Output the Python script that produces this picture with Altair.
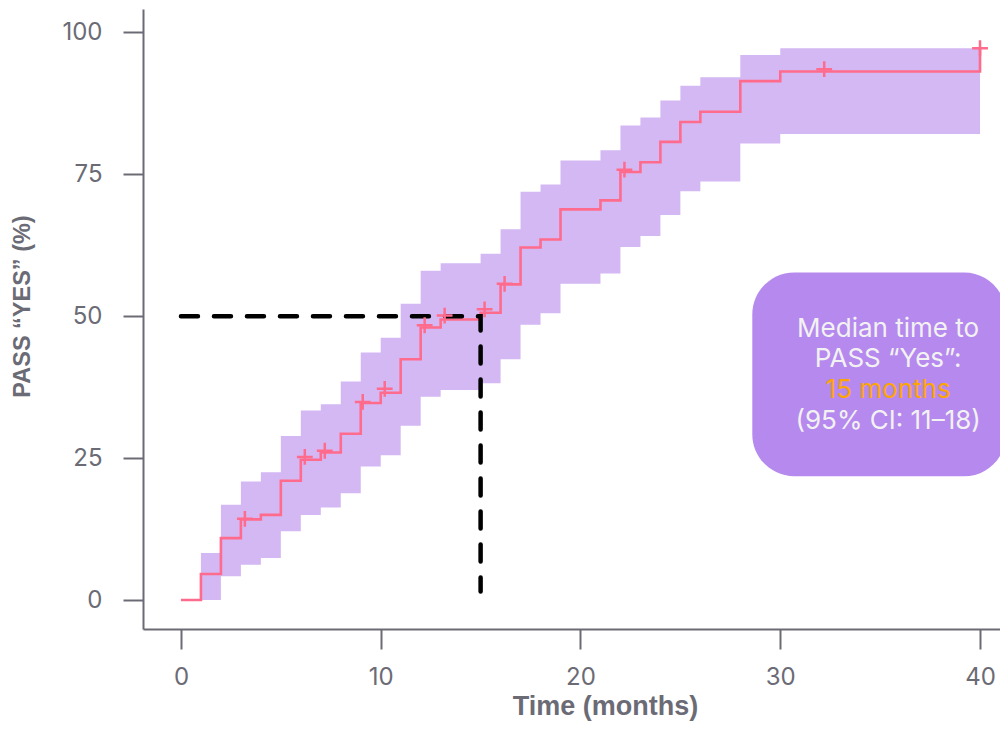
import altair as alt
import pandas as pd

# ---- data ----
km_time = [0, 1, 2, 3, 4, 5, 6, 7, 8, 9, 10, 11, 12, 13, 15, 16, 17, 18, 19, 21, 22, 23, 24, 25, 26, 28, 30, 40]
km_pct = [0, 4.6, 10.9, 14.2, 15.0, 21.0, 24.7, 26.0, 29.3, 34.7, 36.5, 42.4, 48.0, 49.4, 50.6, 55.6, 62.1, 63.5,
          68.8, 70.4, 75.4, 77.1, 80.7, 84.2, 86.0, 91.4, 93.1, 97.2]

ci_time = [1, 2, 3, 4, 5, 6, 7, 8, 9, 10, 11, 12, 13, 15, 16, 17, 18, 19, 21, 22, 23, 24, 25, 26, 28, 30, 40]
ci_lower = [0, 4.2, 6.2, 7.4, 12.1, 15.0, 16.3, 18.8, 23.5, 25.5, 30.7, 35.8, 37.0, 38.2, 42.4, 48.5, 50.5, 55.7,
            57.5, 62.2, 64.1, 67.8, 72.0, 73.7, 80.4, 82.1, 82.1]
ci_upper = [8.3, 16.8, 20.9, 22.5, 28.9, 33.4, 34.5, 38.5, 43.6, 46.2, 52.2, 58.0, 59.3, 61.0, 65.3, 71.9, 73.2,
            77.4, 79.2, 83.6, 85.0, 88.0, 90.6, 92.1, 96.0, 97.2, 97.2]

censor_time = [3.2, 6.2, 7.2, 9.1, 10.2, 12.2, 13.2, 15.2, 16.2, 22.2, 32.2, 40.0]
censor_pct = [14.3, 25.2, 26.3, 34.9, 37.2, 48.4, 50.1, 51.2, 55.7, 75.8, 93.5, 97.2]

median_path_time = [0, 15, 15]
median_path_pct = [50, 50, 1.5]

box_x = [28.6]
box_x2 = [41.3]
box_y = [21.8]
box_y2 = [57.7]

note_lines = ["Median time to", "PASS \u201cYes\u201d:", "15 months", "(95% CI: 11\u201318)"]
note_x = [35.4, 35.4, 35.4, 35.4]
note_y = [47.7, 42.5, 37.0, 31.5]
note_color = ["#F2F2F2", "#F2F2F2", "#FFA500", "#F2F2F2"]

x_ticks = [0, 10, 20, 30, 40]
y_ticks = [0, 25, 50, 75, 100]

# ---- tables ----
km_df = pd.DataFrame({"t": km_time, "p": km_pct})
ci_df = pd.DataFrame({"t": ci_time, "lo": ci_lower, "hi": ci_upper})
cen_df = pd.DataFrame({"t": censor_time, "p": censor_pct})
med_df = pd.DataFrame({"t": median_path_time, "p": median_path_pct, "o": list(range(len(median_path_time)))})
box_df = pd.DataFrame({"x": box_x, "x2": box_x2, "y": box_y, "y2": box_y2})
note_df = pd.DataFrame({"label": note_lines, "x": note_x, "y": note_y, "c": note_color})

GRAY = "#6B6B75"
LINE = "#FF6B8C"
BAND = "#D4B8F3"
BOX = "#B689EE"

xscale = alt.Scale(domain=[-1.9, 41.0], nice=False, zero=False)
yscale = alt.Scale(domain=[-5.1, 104.1], nice=False, zero=False)

xaxis = alt.Axis(values=x_ticks, title="Time (months)", grid=False, domainColor=GRAY, domainWidth=2,
                 tickColor=GRAY, tickWidth=2, tickSize=20, labelPadding=16, labelFont="Inter",
                 labelFontSize=24, labelColor=GRAY, titleFont="Liberation Sans", titleFontSize=27,
                 titleFontWeight="bold", titleColor=GRAY, titleX=462, titleY=77, titleAlign="center",
                 titleBaseline="middle")
yaxis = alt.Axis(values=y_ticks, title="PASS \u201cYES\u201d (%)", grid=False, domainColor=GRAY, domainWidth=2,
                 tickColor=GRAY, tickWidth=2, tickSize=20, labelPadding=21, labelFont="Inter",
                 labelFontSize=24, labelColor=GRAY, titleFont="Liberation Sans", titleFontSize=23.5,
                 titleFontWeight="bold", titleColor=GRAY, titleX=-121, titleY=297, titleAlign="center",
                 titleBaseline="middle", titleAngle=270)

band = alt.Chart(ci_df).mark_area(interpolate="step-after", color=BAND, opacity=1).encode(
    x=alt.X("t:Q", scale=xscale, axis=xaxis),
    y=alt.Y("lo:Q", scale=yscale, axis=yaxis),
    y2="hi:Q",
)

line = alt.Chart(km_df).mark_line(interpolate="step-after", color=LINE, strokeWidth=2.6).encode(
    x=alt.X("t:Q", scale=xscale),
    y=alt.Y("p:Q", scale=yscale),
)

median = alt.Chart(med_df).mark_line(color="black", strokeWidth=4.5, strokeDash=[17, 16],
                                     strokeCap="round").encode(
    x=alt.X("t:Q", scale=xscale),
    y=alt.Y("p:Q", scale=yscale),
    order="o:Q",
)

censor = alt.Chart(cen_df).mark_point(shape="M-1,0L1,0M0,-1L0,1", filled=False, size=250,
                                      strokeWidth=2.5, color=LINE, opacity=1).encode(
    x=alt.X("t:Q", scale=xscale),
    y=alt.Y("p:Q", scale=yscale),
)

box = alt.Chart(box_df).mark_rect(color=BOX, cornerRadius=42).encode(
    x=alt.X("x:Q", scale=xscale),
    x2="x2:Q",
    y=alt.Y("y:Q", scale=yscale),
    y2="y2:Q",
)

notes = alt.Chart(note_df).mark_text(font="Inter", fontSize=26, align="center", baseline="middle").encode(
    x=alt.X("x:Q", scale=xscale),
    y=alt.Y("y:Q", scale=yscale),
    text="label:N",
    color=alt.Color("c:N", scale=None),
)

chart = alt.layer(band, line, median, censor, box, notes).properties(
    width=857,
    height=620,
    autosize=alt.AutoSizeParams(type="none"),
    padding={"left": 135, "top": 1, "right": 0, "bottom": 95},
).configure_view(stroke=None)

chart.save("out.html", embed_options={"renderer": "svg", "actions": False})
